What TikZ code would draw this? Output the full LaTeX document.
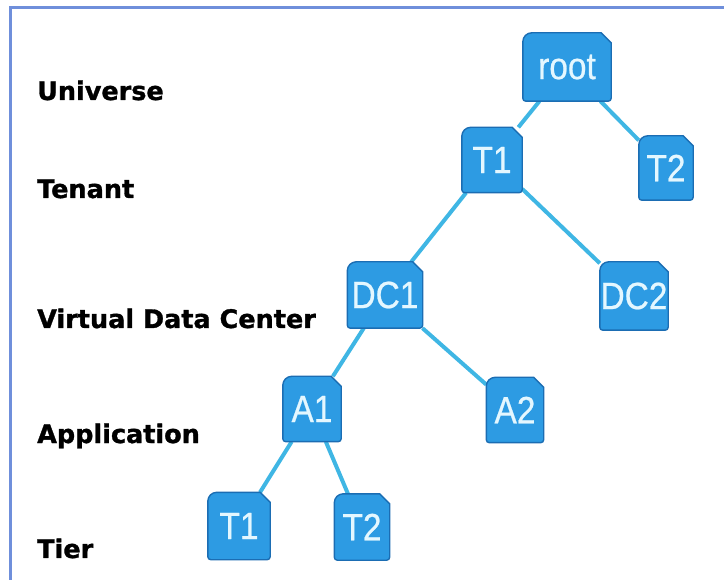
\documentclass[tikz,border=0pt]{standalone}
\usepackage{fontspec}
\newfontfamily\lblfont[BoldFeatures={FakeBold=1.2}]{DejaVu Sans}
\newfontfamily\boxfont[FakeStretch=0.88,FakeBold=0.6]{Liberation Sans}
\definecolor{boxfill}{HTML}{2D9BE3}
\definecolor{boxline}{HTML}{1B6DB3}
\definecolor{edgecol}{HTML}{3FB6E4}
\definecolor{framecol}{HTML}{6F8FDB}
\definecolor{boxtext}{HTML}{E4F7FF}
\pgfdeclarelayer{bg}
\pgfdeclarelayer{boxes}
\pgfsetlayers{bg,boxes,main}
\tikzset{
  level/.style={anchor=base west, inner sep=0pt, font=\lblfont\bfseries\fontsize{25.5}{28}\selectfont, text=black},
  tab/.style={inner sep=0pt, font=\boxfont\fontsize{38}{40}\selectfont, text=boxtext},
  link/.style={draw=edgecol, line width=4pt},
}
\newcommand\tabshape[1]{%
  \begin{pgfonlayer}{boxes}
  \filldraw[fill=boxfill, draw=boxline, line width=1.4pt]
    ([yshift=-9pt]#1.north west) arc[start angle=180, end angle=90, radius=9pt]
    -- ([xshift=-10pt]#1.north east) -- ([yshift=-10pt]#1.north east)
    -- ([yshift=3pt]#1.south east) arc[start angle=0, end angle=-90, radius=3pt]
    -- ([xshift=3pt]#1.south west) arc[start angle=270, end angle=180, radius=3pt]
    -- cycle;
  \end{pgfonlayer}}
\begin{document}
\begin{tikzpicture}[x=1pt,y=-1pt]
\useasboundingbox (0,0) rectangle (724,580);
\draw[framecol, line width=3pt] (10,580) -- (10,7.5) -- (724,7.5);

\node[level] (lu) at (37,100) {Universe};
\node[level] (lt) at (37,198) {Tenant};
\node[level] (lv) at (37,328) {Virtual Data Center};
\node[level] (la) at (37,443) {Application};
\node[level] (lr) at (37,558) {Tier};

\node[tab, minimum width=88pt, minimum height=68pt] (root) at (567,67) {root};
\node[tab, minimum width=60pt, minimum height=65pt] (t1) at (492,160) {T1};
\node[tab, minimum width=54pt, minimum height=64pt] (t2) at (666,168) {T2};
\node[tab, minimum width=75pt, minimum height=66pt] (dc1) at (385,295) {DC1};
\node[tab, minimum width=68pt, minimum height=68pt] (dc2) at (634,296) {DC2};
\node[tab, minimum width=58pt, minimum height=65pt] (a1) at (312,409) {A1};
\node[tab, minimum width=57pt, minimum height=65pt] (a2) at (515,410) {A2};
\node[tab, minimum width=62pt, minimum height=67pt] (r1) at (239,526) {T1};
\node[tab, minimum width=55pt, minimum height=66pt] (r2) at (362,527) {T2};

\foreach \n in {root,t1,t2,dc1,dc2,a1,a2,r1,r2} {\tabshape{\n}}

\begin{pgfonlayer}{bg}
\draw[link] (root) -- (t1);
\draw[link] (root) -- (t2);
\draw[link] (t1) -- (dc1);
\draw[link] (t1) -- (dc2);
\draw[link] (dc1) -- (a1);
\draw[link] (dc1) -- (a2);
\draw[link] (a1) -- (r1);
\draw[link] (a1) -- (r2);
\end{pgfonlayer}
\end{tikzpicture}
\end{document}
